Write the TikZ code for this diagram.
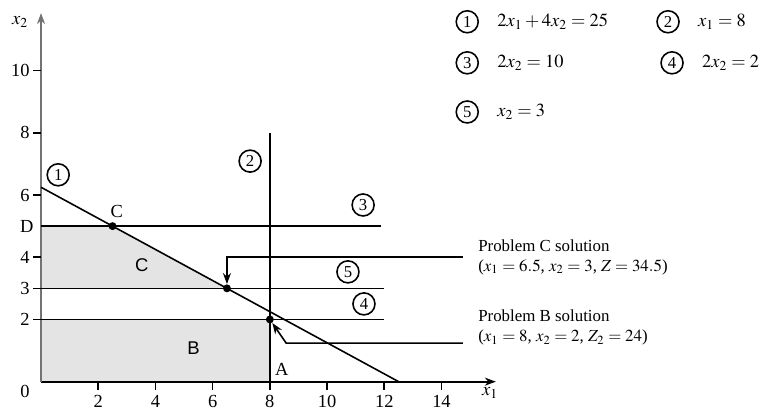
\documentclass[tikz,border=0pt]{standalone}
\usepackage{mathptmx}
\usepackage{fontspec}
\setmainfont{Liberation Serif}
\setsansfont{Liberation Sans}
\usetikzlibrary{arrows.meta,positioning,calc}
\definecolor{shadegray}{RGB}{228,228,228}

\begin{document}
\begin{tikzpicture}[x=0.572cm, y=0.622cm,
  num/.style={draw, circle, line width=0.9pt, minimum size=0.44cm, inner sep=0pt, font=\fontsize{9.5}{9.5}\selectfont},
  fdot/.style={circle, fill, inner sep=0pt, minimum size=4.5pt},
  eqn/.style={font=\fontsize{10.5}{12}\selectfont, inner sep=0pt},
  sol/.style={align=left, anchor=west, inner xsep=0.3cm, inner ysep=0pt, font=\fontsize{9.6}{11.4}\selectfont},
  tick/.style={font=\fontsize{10.5}{12}\selectfont, inner sep=1.5pt},
  line/.style={line width=0.9pt},
  >={Stealth[length=2.2mm, width=1.6mm]}
]
  \useasboundingbox (-1.434,-0.974) rectangle (25.1,12.27);

  % Shaded regions
  \fill[shadegray] (0,3) -- (0,5) -- (2.5,5) -- (6.5,3) -- cycle;
  \fill[shadegray] (0,0) rectangle (8,2);

  % Axes
  \coordinate (O) at (0,0);
  \coordinate (xend) at (15.9,0);
  \coordinate (yend) at (0,11.85);
  \draw[line width=1.1pt, ->] (O) -- (xend);
  \draw[line width=1.3pt, black!55, ->] (O) -- (yend);
  \node[tick] (xlab) at (15.7,-0.36) {$x_1$};
  \node[tick] (ylab) at (-0.73,11.57) {$x_2$};
  \node[tick] (zero) at (-0.56,-0.33) {0};
  \foreach \x in {2,4,...,14} {
    \draw[line] (\x,0) -- (\x,-0.28);
    \node[tick] at (\x,-0.64) {\x};
  }
  \foreach \y in {2,3,4,6,8,10}
    \draw[line] (0,\y) -- (-0.28,\y) node[tick, left] {\y};
  \node[tick] (Dlab) at (-0.5,5) {D};

  % Constraint lines
  \draw[line] (0,6.25) -- (12.5,0);
  \draw[line] (8,0) -- (8,8);
  \draw[line] (0,5) -- (11.9,5);
  \draw[line] (0,3) -- (12,3);
  \draw[line] (0,2) -- (12,2);

  % Points
  \node[fdot] (ptC) at (2.5,5) {};
  \node[fdot] (ptCs) at (6.5,3) {};
  \node[fdot] (ptB) at (8,2) {};
  \node[tick] (Clab) at (2.65,5.47) {C};
  \node[tick] (Alab) at (8.42,0.38) {A};
  \node[tick, font=\sffamily\fontsize{10.5}{12}\selectfont] (regC) at (3.52,3.75) {C};
  \node[tick, font=\sffamily\fontsize{10.5}{12}\selectfont] (regB) at (5.33,1.07) {B};

  % Circled numbers on the graph
  \node[num] (c1) at (0.6,6.65) {1};
  \node[num] (c2) at (7.31,7.09) {2};
  \node[num] (c3) at (11.26,5.68) {3};
  \node[num] (c5) at (10.73,3.53) {5};
  \node[num] (c4) at (11.29,2.50) {4};

  % Legend
  \node[num] (k1) at (14.9,11.57) {1};
  \node[eqn, right=0.36cm of k1] (e1) {$2x_1 + 4x_2 = 25$};
  \node[num] (k2) at (21.92,11.57) {2};
  \node[eqn, right=0.36cm of k2] (e2) {$x_1 = 8$};
  \node[num] (k3) at (14.9,10.25) {3};
  \node[eqn, right=0.36cm of k3] (e3) {$2x_2 = 10$};
  \node[num] (k4) at (22.06,10.25) {4};
  \node[eqn, right=0.36cm of k4] (e4) {$2x_2 = 2$};
  \node[num] (k5) at (14.9,8.67) {5};
  \node[eqn, right=0.36cm of k5] (e5) {$x_2 = 3$};

  % Solutions
  \node[sol] (solC) at (14.75,4) {Problem C solution\\($x_1 = 6.5$, $x_2 = 3$, $Z = 34.5$)};
  \node[sol] (solB) at (14.75,1.74) {Problem B solution\\($x_1 = 8$, $x_2 = 2$, $Z_2 = 24$)};
  \coordinate (bendB) at (8.57,1.24);
  \draw[line, ->] (solC.west) -| (ptCs);
  \draw[line, ->] (solB.west |- bendB) -- (bendB) -- (ptB);
\end{tikzpicture}
\end{document}
